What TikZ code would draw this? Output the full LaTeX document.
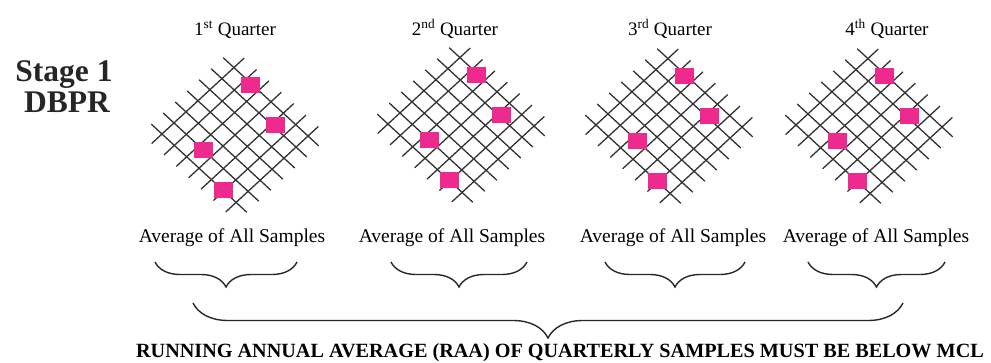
\documentclass[tikz,border=0pt]{standalone}
\usepackage{fontspec}
\setmainfont{Liberation Serif}
\usetikzlibrary{decorations.pathreplacing,calc}
\definecolor{pinkbox}{RGB}{238,42,142}
\definecolor{gridline}{RGB}{50,50,50}
\definecolor{bracecol}{RGB}{40,40,40}
\tikzset{
  gl/.style={draw=gridline, line width=1.3pt},
  samplebox/.style={fill=pinkbox, minimum width=19pt, minimum height=16pt, inner sep=0pt, draw=none},
  qtitle/.style={font=\fontsize{19}{22}\selectfont, inner sep=0pt, anchor=base},
  avglabel/.style={font=\fontsize{19.5}{22}\selectfont, inner sep=0pt, anchor=base},
  stagelabel/.style={font=\bfseries\fontsize{31.5}{34}\selectfont, inner sep=0pt, anchor=base, text=black!85},
  raalabel/.style={font=\bfseries\fontsize{20.2}{22}\selectfont, inner sep=0pt, anchor=base},
  bracepath/.style={draw=bracecol, line width=1.4pt, decorate, decoration={brace, amplitude=#1, aspect=0.5}},
}
\begin{document}
\begin{tikzpicture}[x=1pt,y=-1pt]
\useasboundingbox (0,0) rectangle (991,362);
% Stage label
\node[stagelabel] (stage) at (64,81) {Stage 1};
\node[stagelabel] (dbpr) at (67,112) {DBPR};
% grids with sample squares
\foreach \cx/\cy/\n in {235/135/1, 461/125/2, 669/126/3, 869/126/4} {
  \begin{scope}[shift={(\cx,\cy)}, xscale=1.04, yscale=0.96, rotate=-45]
    \foreach \k in {-3,...,3} {
      \draw[gl] (-65,\k*16.3) -- (65,\k*16.3);
      \draw[gl] (\k*16.8,-63) -- (\k*16.8,63);
    }
  \end{scope}
  \node[samplebox] (s\n a) at (\cx+15,\cy-50) {};
  \node[samplebox] (s\n b) at (\cx+40,\cy-10) {};
  \node[samplebox] (s\n c) at (\cx-32,\cy+15) {};
  \node[samplebox] (s\n d) at (\cx-12,\cy+55) {};
}
% quarter titles
\node[qtitle] (q1) at (235,35) {1\textsuperscript{st} Quarter};
\node[qtitle] (q2) at (455,35) {2\textsuperscript{nd} Quarter};
\node[qtitle] (q3) at (670,35) {3\textsuperscript{rd} Quarter};
\node[qtitle] (q4) at (887,35) {4\textsuperscript{th} Quarter};
% average labels
\node[avglabel] (a1) at (232,242) {Average of All Samples};
\node[avglabel] (a2) at (452,242) {Average of All Samples};
\node[avglabel] (a3) at (673,242) {Average of All Samples};
\node[avglabel] (a4) at (876,242) {Average of All Samples};
% small braces
\coordinate (b1l) at (155,262); \coordinate (b1r) at (297,262);
\coordinate (b2l) at (391,262); \coordinate (b2r) at (527,262);
\coordinate (b3l) at (605,262); \coordinate (b3r) at (745,262);
\coordinate (b4l) at (808,262); \coordinate (b4r) at (945,262);
\draw[bracepath=25pt] (b1r) -- (b1l);
\draw[bracepath=25pt] (b2r) -- (b2l);
\draw[bracepath=25pt] (b3r) -- (b3l);
\draw[bracepath=25pt] (b4r) -- (b4l);
% big brace
\coordinate (bbl) at (193,303); \coordinate (bbr) at (903,303);
\draw[bracepath=35pt] (bbr) -- (bbl);
% bottom text
\node[raalabel] (raa) at (560,357) {RUNNING ANNUAL AVERAGE (RAA) OF QUARTERLY SAMPLES MUST BE BELOW MCL};
\end{tikzpicture}
\end{document}
